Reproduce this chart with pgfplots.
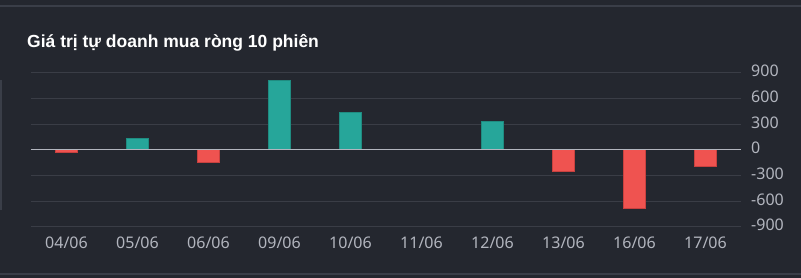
\documentclass[border=0pt]{standalone}
\usepackage{pgfplots}
\pgfplotsset{compat=1.18}
\usepackage{fontspec}
\setmainfont{Noto Sans}
\newfontfamily\titlefont{Liberation Sans}
\definecolor{bg}{HTML}{24272F}
\definecolor{sepc}{HTML}{3A3E48}
\definecolor{gridc}{HTML}{3A3D46}
\definecolor{zeroc}{HTML}{B2B5BE}
\definecolor{labc}{HTML}{B2B5BE}
\definecolor{upc}{HTML}{26A69A}
\definecolor{upd}{HTML}{1F8C81}
\definecolor{dnc}{HTML}{EF5350}
\definecolor{dnd}{HTML}{C8413F}
\begin{document}
\begin{tikzpicture}[x=1pt,y=1pt]
\fill[bg] (0,0) rectangle (801,278);
\useasboundingbox (0,0) rectangle (801,278);
\fill[sepc] (0,271) rectangle (801,272.5);
\fill[sepc] (0,2.5) rectangle (801,4.5);
\fill[sepc] (0,68) rectangle (1.5,198);
\node[anchor=base west, text=white, font=\titlefont\bfseries\fontsize{17.5}{20}\selectfont, inner sep=0pt] at (27,230.3) {Giá trị tự doanh mua ròng 10 phiên};
\begin{axis}[
  at={(31pt,51.3pt)}, anchor=south west,
  scale only axis, width=710pt, height=154pt,
  xmin=-0.5, xmax=9.5, ymin=-900, ymax=900,
  axis line style={draw=none},
  tick style={draw=none},
  major tick length=0pt,
  ytick={-900,-600,-300,0,300,600,900},
  yticklabels={-900,-600,-300,0,300,600,900},
  yticklabel pos=right,
  yticklabel style={anchor=west, inner sep=0pt, xshift=10pt, yshift=1.5pt, text=labc, font=\fontsize{16}{18}\selectfont},
  xtick={0,1,2,3,4,5,6,7,8,9},
  xticklabels={04/06,05/06,06/06,09/06,10/06,11/06,12/06,13/06,16/06,17/06},
  xticklabel style={anchor=base, inner sep=0pt, yshift=-21.6pt, text=labc, font=\fontsize{16}{18}\selectfont},
  ymajorgrids,
  major grid style={gridc, line width=1pt},
  ybar, bar width=22.5pt, bar shift=0pt,
]
\addplot[fill=upc, draw=upd, line width=0.6pt] coordinates {(1,130) (3,810) (4,435) (5,5) (6,330)};
\addplot[fill=dnc, draw=dnd, line width=0.6pt] coordinates {(0,-25) (2,-145) (7,-250) (8,-680) (9,-195)};
\draw[zeroc, line width=1pt] (axis cs:-0.5,0) -- (axis cs:9.5,0);
\end{axis}
\end{tikzpicture}
\end{document}
